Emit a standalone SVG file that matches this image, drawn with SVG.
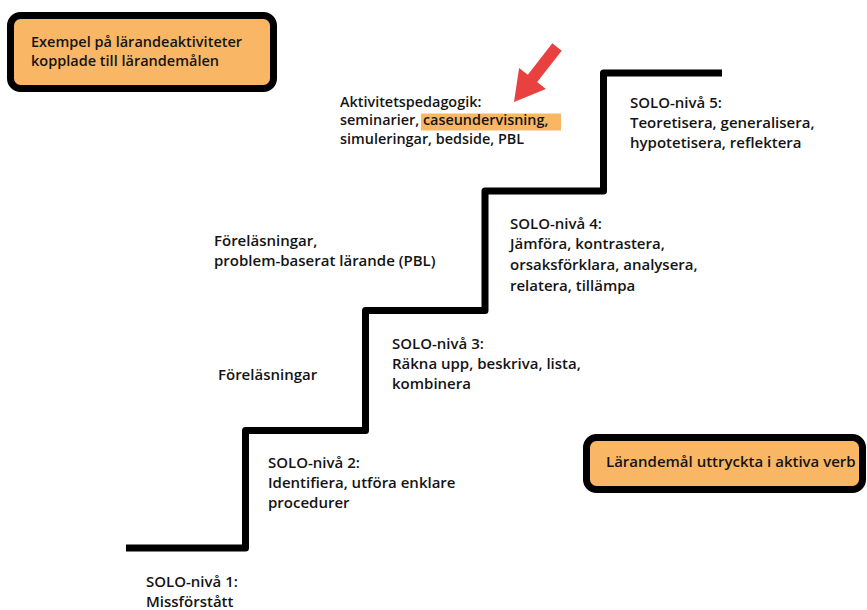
<svg xmlns="http://www.w3.org/2000/svg" width="867" height="610" viewBox="0 0 867 610">
  <style>
    .t { font-family: "Open Sans", "Noto Sans", "Liberation Sans", sans-serif; font-weight: 600; font-size: 15px; fill: #141414; }
    .small { font-size: 14.5px; }
    .tight { font-size: 14.4px; }
    .box { fill: #F9B766; stroke: #000; stroke-width: 7; }
    .stair { fill: none; stroke: #000; stroke-width: 7; stroke-linejoin: round; }
  </style>
  <rect width="867" height="610" fill="#fff"/>

  <!-- staircase of SOLO levels -->
  <g id="connectors">
    <path class="stair" d="M126 548 H245.5 V430.5 H365.5 V310.5 H485 V191 H603.5 V73 H722"/>
  </g>

  <g id="legend-activities">
    <rect class="box" x="10.5" y="15.5" width="263" height="73" rx="10"/>
    <text class="t small" x="31" y="47">Exempel på lärandeaktiviteter</text>
    <text class="t small" x="31" y="66">kopplade till lärandemålen</text>
  </g>

  <g id="legend-verbs">
    <rect class="box" x="586.5" y="437.5" width="276" height="52" rx="10"/>
    <text class="t" x="606" y="467">Lärandemål uttryckta i aktiva verb</text>
  </g>

  <g id="pointer">
    <polygon fill="#E8413F" points="561.7,50.7 552.3,43.3 527.8,74.7 519.1,67.9 514,102 545.9,88.9 537.2,82.1"/>
  </g>

  <g id="activity-top">
    <rect x="421" y="113.5" width="140" height="17" fill="#F9B766"/>
    <text class="t tight" x="340" y="106.5">Aktivitetspedagogik:</text>
    <text class="t tight" x="340" y="125">seminarier, caseundervisning,</text>
    <text class="t tight" x="340" y="143.5">simuleringar, bedside, PBL</text>
  </g>

  <g id="activity-mid">
    <text class="t" x="214" y="246">Föreläsningar,</text>
    <text class="t" x="214" y="266">problem-baserat lärande (PBL)</text>
  </g>

  <g id="activity-low">
    <text class="t" x="218" y="380">Föreläsningar</text>
  </g>

  <g id="solo-1">
    <text class="t" x="146" y="587">SOLO-nivå 1:</text>
    <text class="t" x="146" y="607">Missförstått</text>
  </g>

  <g id="solo-2">
    <text class="t" x="268" y="468">SOLO-nivå 2:</text>
    <text class="t" x="268" y="488">Identifiera, utföra enklare</text>
    <text class="t" x="268" y="508">procedurer</text>
  </g>

  <g id="solo-3">
    <text class="t" x="392" y="349">SOLO-nivå 3:</text>
    <text class="t" x="392" y="369">Räkna upp, beskriva, lista,</text>
    <text class="t" x="392" y="389">kombinera</text>
  </g>

  <g id="solo-4">
    <text class="t" x="510" y="229">SOLO-nivå 4:</text>
    <text class="t" x="510" y="249">Jämföra, kontrastera,</text>
    <text class="t" x="510" y="270">orsaksförklara, analysera,</text>
    <text class="t" x="510" y="291">relatera, tillämpa</text>
  </g>

  <g id="solo-5">
    <text class="t" x="630" y="108">SOLO-nivå 5:</text>
    <text class="t" x="630" y="128">Teoretisera, generalisera,</text>
    <text class="t" x="630" y="148">hypotetisera, reflektera</text>
  </g>
</svg>
